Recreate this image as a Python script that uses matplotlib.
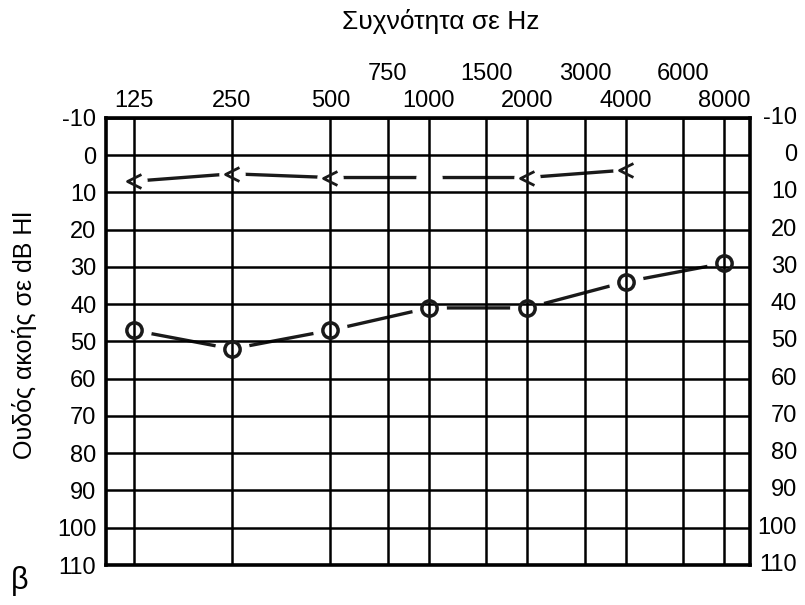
import numpy as np
import matplotlib
matplotlib.use("Agg")
import matplotlib.pyplot as plt
from matplotlib.path import Path
from matplotlib.transforms import blended_transform_factory

plt.rcParams['font.family'] = ['Liberation Sans Narrow', 'Liberation Sans', 'DejaVu Sans']

# audiogram data (dB HL)
freqs_octave = [125, 250, 500, 1000, 2000, 4000, 8000]
freqs_mid = [750, 1500, 3000, 6000]
air_freqs = [125, 250, 500, 1000, 2000, 4000, 8000]
air_db = [47, 52, 47, 41, 41, 34, 29]
bone_freqs = [125, 250, 500, 2000, 4000]
bone_db = [7, 5, 6, 6, 4]
db_ticks = list(range(-10, 111, 10))

chevron = Path([(1, 1), (-1, 0), (1, -1)], [Path.MOVETO, Path.LINETO, Path.LINETO])

fig = plt.figure(figsize=(8.05, 6.05), dpi=100)
ax = fig.add_axes([0.1317, 0.0661, 0.80, 0.739])

ax.set_xscale('log', base=2)
ax.set_xlim(103, 9600)
ax.set_ylim(110, -10)

ax.xaxis.tick_top()
ax.set_xticks(freqs_octave, [str(f) for f in freqs_octave])
ax.set_xticks(freqs_mid, [str(f) for f in freqs_mid], minor=True)
ax.tick_params(axis='x', which='major', length=0, pad=4, labelsize=17)
ax.tick_params(axis='x', which='minor', length=0, pad=24, labelsize=17)

ax.set_yticks(db_ticks, [str(v) for v in db_ticks])
ax.tick_params(axis='y', length=0, pad=7, labelsize=17)

# right-side labels
tr = blended_transform_factory(ax.transAxes, ax.transData)
for v in db_ticks:
    ax.text(1.073, v, str(v), transform=tr, ha='right', va='center', fontsize=17)

ax.set_axisbelow(False)
ax.grid(which='both', axis='x', color='black', linewidth=1.8)
ax.grid(which='major', axis='y', color='black', linewidth=1.8)
for s in ax.spines.values():
    s.set_linewidth(2.6)

# air conduction
ax.plot(air_freqs, air_db, color='#1a1a1a', linewidth=2.4, zorder=1)
ax.plot(air_freqs, air_db, 'o', color='white', markersize=24, zorder=1.5)
ax.plot(air_freqs, air_db, 'o', markersize=11, markerfacecolor='none',
        markeredgecolor='#1a1a1a', markeredgewidth=2.5, zorder=3)

# bone conduction
ax.plot(bone_freqs, bone_db, color='#1a1a1a', linewidth=2.4, zorder=1)
ax.plot(bone_freqs, bone_db, 'o', color='white', markersize=18, zorder=1.5)
gap_y = np.interp(np.log2(1000), np.log2(bone_freqs), bone_db)
ax.plot([1000], [gap_y], 'o', color='white', markersize=18, zorder=1.5)
ax.plot(bone_freqs, bone_db, linestyle='none', marker=chevron, markersize=10,
        markerfacecolor='none', markeredgecolor='#1a1a1a', markeredgewidth=2.0, zorder=3)

fig.text(0.547, 0.964, 'Συχνότητα σε Hz', ha='center', va='center', fontsize=19)
fig.text(0.031, 0.446, 'Ουδός ακοής σε dB Hl', rotation=90, ha='center', va='center', fontsize=18)
fig.text(0.024, 0.040, 'β', ha='center', va='center', fontsize=22)

fig.savefig('out.png', dpi=100, facecolor='white')
